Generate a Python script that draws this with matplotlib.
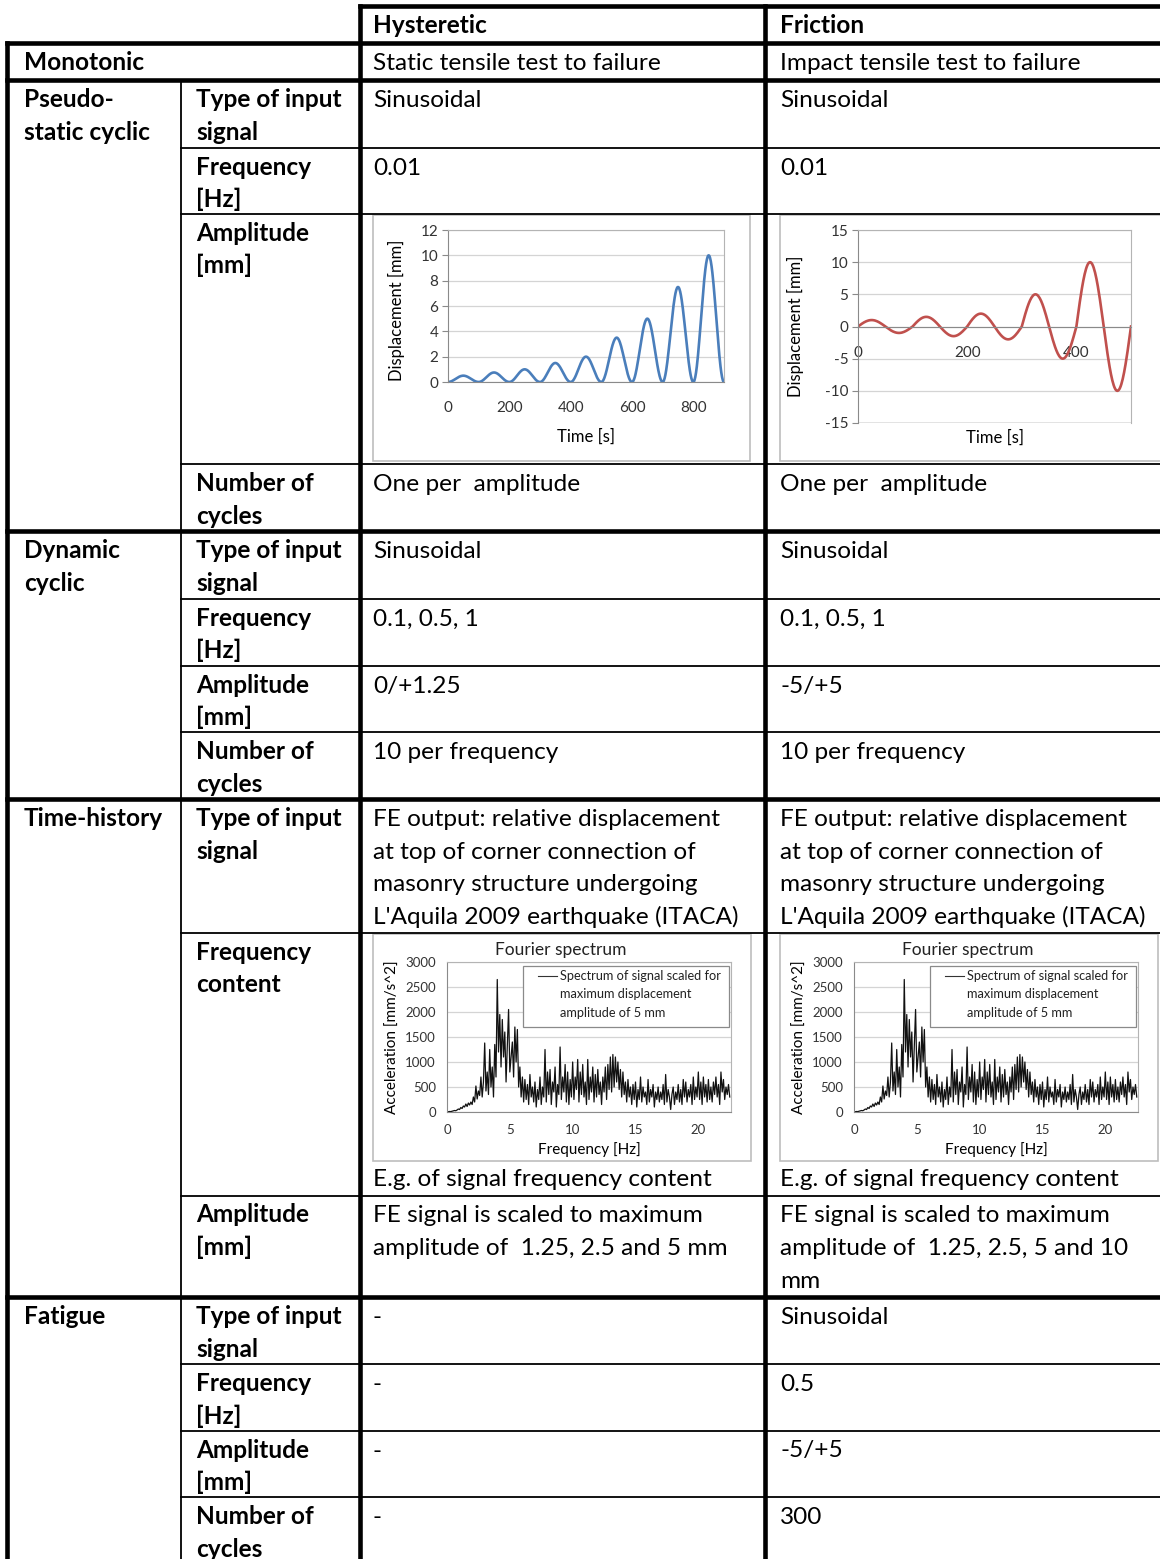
import numpy as np
import matplotlib.pyplot as plt
from matplotlib.patches import Rectangle

plt.rcParams['font.family'] = ['Lato', 'DejaVu Sans']
plt.rcParams['axes.unicode_minus'] = False

W, H = 1160, 1559
FS = 17.6

# --- table contents -------------------------------------------------------
col_headers = ["Hysteretic", "Friction"]
group_labels = ["Monotonic", "Pseudo-\nstatic cyclic", "Dynamic\ncyclic", "Time-history", "Fatigue"]

monotonic_hyst = "Static tensile test to failure"
monotonic_fric = "Impact tensile test to failure"

pseudo_params = ["Type of input\nsignal", "Frequency\n[Hz]", "Amplitude\n[mm]", "Number of\ncycles"]
pseudo_hyst = ["Sinusoidal", "0.01", "", "One per  amplitude"]
pseudo_fric = ["Sinusoidal", "0.01", "", "One per  amplitude"]

dynamic_params = ["Type of input\nsignal", "Frequency\n[Hz]", "Amplitude\n[mm]", "Number of\ncycles"]
dynamic_hyst = ["Sinusoidal", "0.1, 0.5, 1", "0/+1.25", "10 per frequency"]
dynamic_fric = ["Sinusoidal", "0.1, 0.5, 1", "-5/+5", "10 per frequency"]

fe_signal = ("FE output: relative displacement\nat top of corner connection of\n"
             "masonry structure undergoing\nL'Aquila 2009 earthquake (ITACA)")
th_params = ["Type of input\nsignal", "Frequency\ncontent", "Amplitude\n[mm]"]
th_hyst = [fe_signal, "", "FE signal is scaled to maximum\namplitude of  1.25, 2.5 and 5 mm"]
th_fric = [fe_signal, "", "FE signal is scaled to maximum\namplitude of  1.25, 2.5, 5 and 10\nmm"]
spectrum_caption = "E.g. of signal frequency content"

fatigue_params = ["Type of input\nsignal", "Frequency\n[Hz]", "Amplitude\n[mm]", "Number of\ncycles"]
fatigue_hyst = ["-", "-", "-", "-"]
fatigue_fric = ["Sinusoidal", "0.5", "-5/+5", "300"]

# --- signal data ----------------------------------------------------------
hyst_amp = [0.5, 0.75, 1, 1.5, 2, 3.5, 5, 7.5, 10]   # mm, one cycle each
hyst_period = 100                                   # s  (0.01 Hz)
fric_amp = [1, 1.5, 2, 5, 10]                        # mm
fric_period = 100                                   # s

# Fourier spectrum of the scaled FE signal, 0.1 Hz steps from 0 Hz
spec_acc = [
    0, 5, 10, 8, 15, 20, 30, 25, 40, 60,
    50, 90, 70, 120, 100, 160, 110, 180, 140, 200,
    150, 300, 200, 520, 260, 420, 330, 700, 300, 600,
    1380, 420, 800, 350, 1250, 500, 900, 300, 1350, 700,
    2650, 1200, 1950, 900, 1850, 1100, 1600, 600, 1300, 2050,
    800, 1100, 1400, 700, 1700, 1000, 1650, 500, 900, 300,
    700, 200, 650, 250, 550, 150, 750, 300, 500, 200,
    600, 100, 450, 250, 700, 150, 500, 300, 1250, 200,
    800, 350, 850, 150, 600, 400, 900, 100, 550, 350,
    1300, 250, 700, 400, 950, 200, 800, 150, 650, 300,
    1000, 250, 700, 450, 1050, 200, 800, 350, 950, 300,
    600, 150, 1050, 250, 700, 400, 900, 200, 750, 300,
    850, 350, 600, 150, 700, 400, 900, 250, 950, 450,
    1100, 400, 1150, 500, 1100, 600, 1000, 450, 850, 300,
    800, 350, 600, 200, 650, 300, 500, 150, 550, 250,
    600, 100, 450, 250, 700, 200, 500, 300, 400, 150,
    650, 200, 450, 300, 550, 100, 400, 250, 500, 200,
    400, 250, 550, 150, 750, 200, 450, 300, 50, 350,
    500, 150, 400, 250, 550, 200, 450, 150, 650, 300,
    600, 200, 450, 300, 550, 150, 700, 250, 500, 300,
    800, 250, 600, 150, 700, 300, 550, 200, 650, 250,
    500, 200, 600, 350, 700, 300, 550, 150, 800, 400,
    650, 250, 500, 350, 550, 300,
]
spec_freq = np.arange(len(spec_acc)) * 0.1

# --- layout (pixels) ------------------------------------------------------
X_LEFT, X_PARAM, X_HYST, X_FRIC = 7, 181, 359.5, 764.5
TXT_GROUP, TXT_PARAM, TXT_HYST, TXT_FRIC = 24, 196, 373, 780
thick_rows = [42.5, 80, 531, 799, 1297]
thin_rows = [147.5, 213.5, 464, 598.5, 665.5, 732, 932.5, 1195.5, 1364, 1430.5, 1497]
LW_THICK, LW_THIN = 3.3, 1.3
LINE_H = 32.6
BASE = 27

fig = plt.figure(figsize=(W / 100, H / 100), dpi=100)
main = fig.add_axes([0, 0, 1, 1])
main.set_xlim(0, W)
main.set_ylim(H, 0)
main.axis('off')


def hline(y, x0, lw):
    main.plot([x0, W + 5], [y, y], color='black', lw=lw, solid_capstyle='projecting')


def vline(x, y0, lw):
    main.plot([x, x], [y0, H + 5], color='black', lw=lw, solid_capstyle='projecting')


def cell(x, top, text, bold=False):
    for i, line in enumerate(text.split("\n")):
        main.text(x, top + BASE + i * LINE_H, line, fontsize=FS, va='baseline', ha='left',
                  fontweight='bold' if bold else 'normal', color='black')


hline(6, X_HYST, LW_THICK)
for y in thick_rows:
    hline(y, X_LEFT, LW_THICK)
for y in thin_rows:
    hline(y, X_PARAM, LW_THIN)
vline(X_LEFT, 42.5, LW_THICK)
vline(X_PARAM, 80, LW_THIN)
vline(X_HYST, 6, LW_THICK)
vline(X_FRIC, 6, LW_THICK)

cell(TXT_HYST, 6, col_headers[0], bold=True)
cell(TXT_FRIC, 6, col_headers[1], bold=True)
cell(TXT_GROUP, 42.5, group_labels[0], bold=True)
cell(TXT_HYST, 42.5, monotonic_hyst)
cell(TXT_FRIC, 42.5, monotonic_fric)

sections = [
    (group_labels[1], 80, [80, 147.5, 213.5, 464], pseudo_params, pseudo_hyst, pseudo_fric),
    (group_labels[2], 531, [531, 598.5, 665.5, 732], dynamic_params, dynamic_hyst, dynamic_fric),
    (group_labels[3], 799, [799, 932.5, 1195.5], th_params, th_hyst, th_fric),
    (group_labels[4], 1297, [1297, 1364, 1430.5, 1497], fatigue_params, fatigue_hyst, fatigue_fric),
]
for group, gtop, tops, params, hyst, fric in sections:
    cell(TXT_GROUP, gtop, group, bold=True)
    for top, p, h, f in zip(tops, params, hyst, fric):
        cell(TXT_PARAM, top, p, bold=True)
        cell(TXT_HYST, top, h)
        cell(TXT_FRIC, top, f)

for x in (TXT_HYST, TXT_FRIC):
    main.text(x, 1186, spectrum_caption, fontsize=FS, va='baseline', ha='left')

# grey frames around the embedded charts
for x0, y0, x1, y1 in [(373, 215, 750, 461), (780, 215, 1170, 461),
                       (373, 934, 751, 1161), (780, 934, 1158, 1161)]:
    main.add_patch(Rectangle((x0, y0), x1 - x0, y1 - y0, fill=False,
                             edgecolor='#bdbdbd', lw=1.2))


def inset(left, top, right, bottom):
    return fig.add_axes([left / W, 1 - bottom / H, (right - left) / W, (bottom - top) / H])


def style(ax, label_size=11):
    ax.set_facecolor('none')
    ax.set_axisbelow(True)
    ax.yaxis.grid(True, color='#d4d4d4', lw=0.9)
    for s in ('top', 'right'):
        ax.spines[s].set_color('#b4b4b4')
    for s in ('left', 'bottom'):
        ax.spines[s].set_color('#8a8a8a')
    ax.tick_params(labelsize=label_size, labelcolor='#333333', color='#8a8a8a')


# cyclic test signal, hysteretic device (displacement-only cycles)
ax = inset(448, 230, 724, 382)
t_all, d_all = [], []
for k, a in enumerate(hyst_amp):
    tt = np.linspace(0, hyst_period, 80)
    t_all.append(k * hyst_period + tt)
    d_all.append(a * (1 - np.cos(2 * np.pi * tt / hyst_period)) / 2)
ax.plot(np.concatenate(t_all), np.concatenate(d_all), color='#4a7ebb', lw=1.9)
ax.set_xlim(0, len(hyst_amp) * hyst_period)
ax.set_ylim(0, 12)
ax.set_xticks(range(0, 801, 200))
ax.set_yticks(range(0, 13, 2))
style(ax)
ax.tick_params(axis='x', length=0, pad=14)
ax.tick_params(axis='y', length=4, pad=3)
ax.set_xlabel('Time [s]', fontsize=12)
ax.xaxis.set_label_coords(0.5, -0.36)
ax.xaxis.label.set_va('center')
ax.set_ylabel('Displacement [mm]', fontsize=12)
ax.yaxis.set_label_coords(-0.185, 0.47)
ax.yaxis.label.set_va('center')

# cyclic test signal, friction device (symmetric cycles)
ax = inset(858, 230, 1131, 423)
t_all, d_all = [], []
for k, a in enumerate(fric_amp):
    tt = np.linspace(0, fric_period, 80)
    t_all.append(k * fric_period + tt)
    d_all.append(a * np.sin(2 * np.pi * tt / fric_period))
ax.plot(np.concatenate(t_all), np.concatenate(d_all), color='#c0504d', lw=1.9)
ax.set_xlim(0, len(fric_amp) * fric_period)
ax.set_ylim(-15, 15)
ax.set_xticks([0, 200, 400])
ax.set_yticks(range(-15, 16, 5))
style(ax)
ax.spines['bottom'].set_position(('data', 0))
ax.axhline(-15, color='#8a8a8a', lw=1.0, zorder=1)
ax.tick_params(axis='x', length=0, pad=14)
ax.tick_params(axis='y', length=4, pad=3)
ax.set_xlabel('Time [s]', fontsize=12)
ax.xaxis.set_label_coords(0.5, -0.075)
ax.xaxis.label.set_va('center')
ax.set_ylabel('Displacement [mm]', fontsize=12)
ax.yaxis.set_label_coords(-0.23, 0.5)
ax.yaxis.label.set_va('center')

# Fourier spectra (same input signal for both devices)
for dx in (0, 407):
    ax = inset(447 + dx, 962, 731 + dx, 1112)
    ax.plot(spec_freq, spec_acc, color='#111111', lw=0.9)
    ax.set_xlim(0, 22.6)
    ax.set_ylim(0, 3000)
    ax.set_xticks(range(0, 21, 5))
    ax.set_yticks(range(0, 3001, 500))
    style(ax, label_size=9.5)
    ax.tick_params(axis='x', length=0, pad=9)
    ax.tick_params(axis='y', length=0, pad=8)
    ax.set_title('Fourier spectrum', fontsize=12.5, pad=5, color='#222222')
    ax.title.set_x(0.40)
    ax.set_xlabel('Frequency [Hz]', fontsize=11)
    ax.xaxis.set_label_coords(0.5, -0.25)
    ax.xaxis.label.set_va('center')
    ax.set_ylabel('Acceleration [mm/s^2]', fontsize=11)
    ax.yaxis.set_label_coords(-0.19, 0.5)
    ax.yaxis.label.set_va('center')
    ax.add_patch(Rectangle((0.268, 0.567), 0.725, 0.406, transform=ax.transAxes,
                           facecolor='white', edgecolor='#8a8a8a', lw=0.9, zorder=5))
    ax.plot([0.32, 0.387], [0.907, 0.907], transform=ax.transAxes, color='#333333',
            lw=0.8, zorder=6)
    for i, line in enumerate(["Spectrum of signal scaled for", "maximum displacement",
                              "amplitude of 5 mm"]):
        ax.text(0.398, 0.907 - i * 0.122, line, transform=ax.transAxes, fontsize=9.2,
                va='center', ha='left', zorder=6, color='#222222')

fig.savefig('out.png', dpi=100)
